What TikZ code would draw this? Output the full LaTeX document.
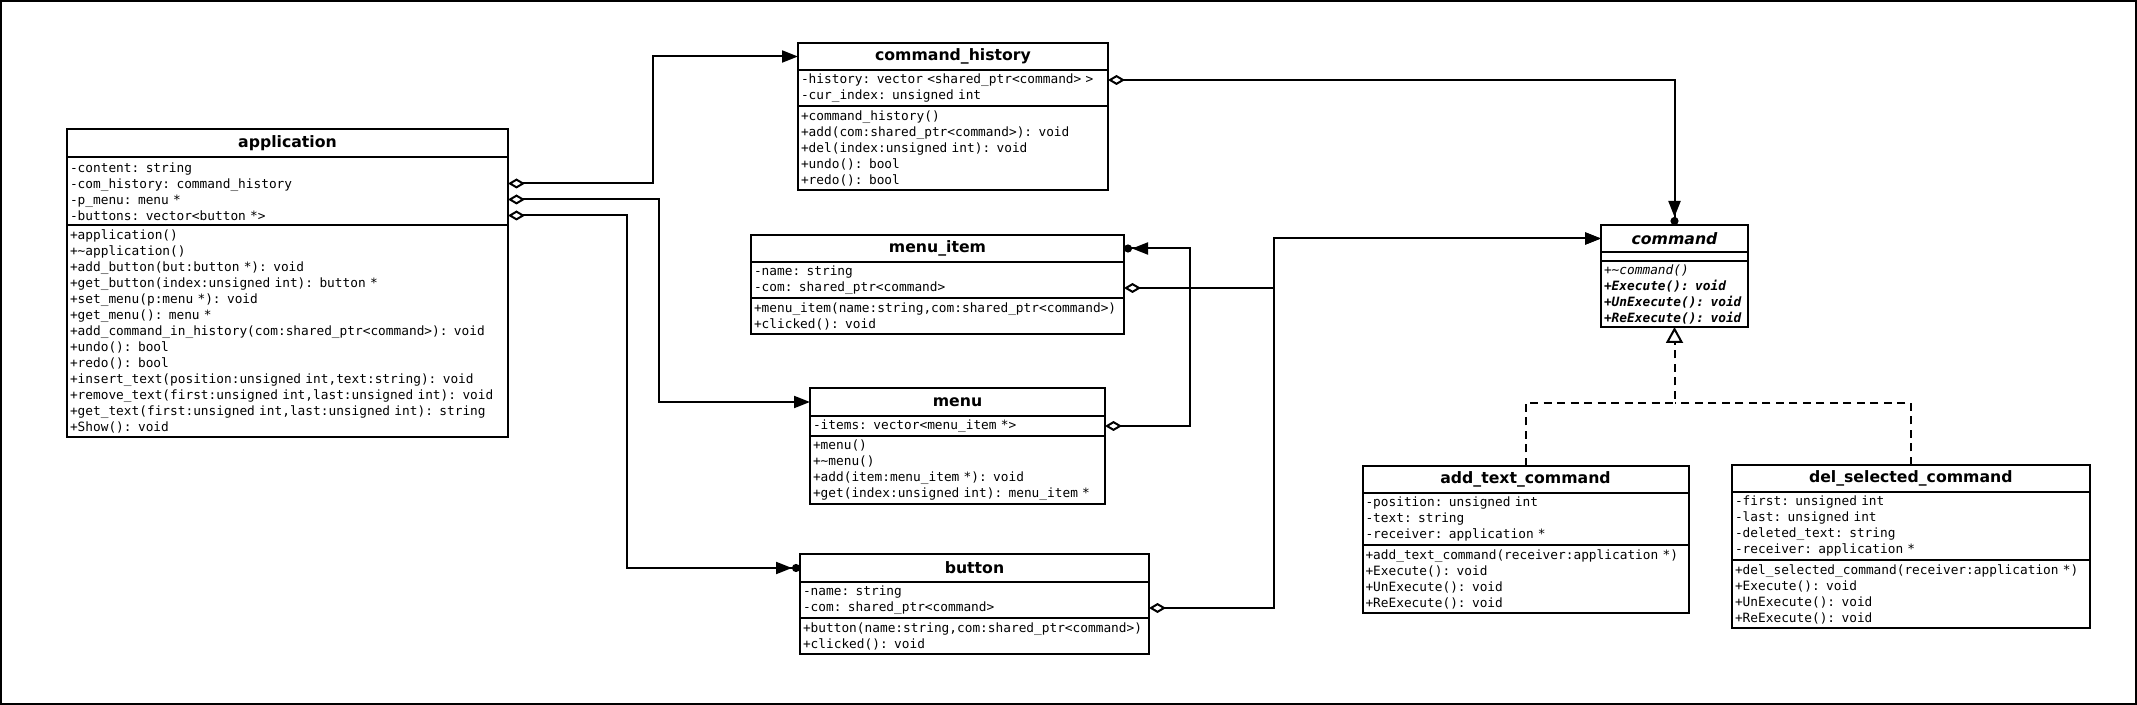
\documentclass[tikz,border=0pt]{standalone}
\usepackage{fontspec}
\setmonofont{DejaVu Sans Mono}
\setsansfont{DejaVu Sans}
\usepackage{tikz}
\usetikzlibrary{arrows.meta,calc}
\tikzset{>=Stealth}
\newcommand\umlrow{\fontsize{6.4}{8}\selectfont\ttfamily}
\newcommand\umlhead{\fontsize{7.85}{9}\selectfont\sffamily\bfseries}
\tikzset{
  box/.style={draw, line width=1pt, anchor=north west, outer sep=0pt, inner xsep=1.5pt, inner ysep=1pt},
  head/.style={box, font=\umlhead, align=center, minimum height=13.5pt},
  rows/.style={box, font=\umlrow, align=left, minimum height=#1},
  aggr/.style={line width=1pt, {Diamond[open,length=8.5pt,width=5pt]}-{Triangle[length=8pt,width=6pt]}},
  aggrdot/.style={line width=1pt, {Diamond[open,length=8.5pt,width=5pt]}-{Triangle[length=8pt,width=6pt]Circle[length=4pt]}},
  realize/.style={line width=1pt, dash pattern=on 4pt off 2.75pt, -{Triangle[open,length=8pt,width=8.5pt]}}
}

\begin{document}
\begin{tikzpicture}[x=0.5pt, y=-0.5pt]
\useasboundingbox (0,0) rectangle (2137,705);
\draw[line width=1pt] (1,1) rectangle (2136,704);

% Clases
\node[head, text width=217.5pt, minimum height=14.25pt] (app) at (67,129) {application};
\node[rows=34pt, text width=217.5pt] (app-a) at (app.south west) {-content: string\\-com\_history: command\_history\\-p\_menu: menu *\\-buttons: vector<button *>};
\node[rows=106pt, text width=217.5pt] (app-m) at (app-a.south west) {+application()\\+\textasciitilde application()\\+add\_button(but:button *): void\\+get\_button(index:unsigned int): button *\\+set\_menu(p:menu *): void\\+get\_menu(): menu *\\+add\_command\_in\_history(com:shared\_ptr<command>): void\\+undo(): bool\\+redo(): bool\\+insert\_text(position:unsigned int,text:string): void\\+remove\_text(first:unsigned int,last:unsigned int): void\\+get\_text(first:unsigned int,last:unsigned int): string\\+Show(): void};

\node[head, text width=152pt] (hist) at (798,43) {command\_history};
\node[rows=18pt, text width=152pt] (hist-a) at (hist.south west) {-history: vector <shared\_ptr<command> >\\-cur\_index: unsigned int};
\node[rows=42pt, text width=152pt] (hist-m) at (hist-a.south west) {+command\_history()\\+add(com:shared\_ptr<command>): void\\+del(index:unsigned int): void\\+undo(): bool\\+redo(): bool};

\node[head, text width=183.5pt] (mitem) at (751,235) {menu\_item};
\node[rows=18pt, text width=183.5pt] (mitem-a) at (mitem.south west) {-name: string\\-com: shared\_ptr<command>};
\node[rows=18pt, text width=183.5pt] (mitem-m) at (mitem-a.south west) {+menu\_item(name:string,com:shared\_ptr<command>)\\+clicked(): void};

\node[head, text width=144.5pt, minimum height=14pt] (menu) at (810,388) {menu};
\node[rows=10pt, text width=144.5pt] (menu-a) at (menu.south west) {-items: vector<menu\_item *>};
\node[rows=34pt, text width=144.5pt] (menu-m) at (menu-a.south west) {+menu()\\+\textasciitilde menu()\\+add(item:menu\_item *): void\\+get(index:unsigned int): menu\_item *};

\node[head, text width=171.5pt, minimum height=14pt] (btn) at (800,554) {button};
\node[rows=18pt, text width=171.5pt] (btn-a) at (btn.south west) {-name: string\\-com: shared\_ptr<command>};
\node[rows=18pt, text width=171.5pt] (btn-m) at (btn-a.south west) {+button(name:string,com:shared\_ptr<command>)\\+clicked(): void};

\node[head, text width=70.5pt] (cmd) at (1601,225) {\itshape command};
\node[rows=4.5pt, text width=70.5pt] (cmd-a) at (cmd.south west) {};
\node[rows=33pt, text width=70.5pt] (cmd-m) at (cmd-a.south west) {\textit{+\textasciitilde command()}\\\textbf{\textit{+Execute(): void}}\\\textbf{\textit{+UnExecute(): void}}\\\textbf{\textit{+ReExecute(): void}}};

\node[head, text width=160pt] (addcmd) at (1362.5,466) {add\_text\_command};
\node[rows=26pt, text width=160pt] (addcmd-a) at (addcmd.south west) {-position: unsigned int\\-text: string\\-receiver: application *};
\node[rows=34pt, text width=160pt] (addcmd-m) at (addcmd-a.south west) {+add\_text\_command(receiver:application *)\\+Execute(): void\\+UnExecute(): void\\+ReExecute(): void};

\node[head, text width=175.75pt] (delcmd) at (1732,465) {del\_selected\_command};
\node[rows=34pt, text width=175.75pt] (delcmd-a) at (delcmd.south west) {-first: unsigned int\\-last: unsigned int\\-deleted\_text: string\\-receiver: application *};
\node[rows=34pt, text width=175.75pt] (delcmd-m) at (delcmd-a.south west) {+del\_selected\_command(receiver:application *)\\+Execute(): void\\+UnExecute(): void\\+ReExecute(): void};

% Agregaciones
\draw[aggr] ($(app-a.north east)+(0,26)$) -- ++(145,0) |- (hist.west);
\draw[aggr] ($(app-a.north east)+(0,42)$) -- ++(151,0) |- (menu.west);
\draw[aggrdot] ($(app-a.north east)+(0,58)$) -- ++(119,0) |- (btn.west);
\draw[aggrdot] ($(hist-a.north east)+(0,10)$) -| (cmd.north);
\draw[aggrdot] ($(menu-a.north east)+(0,10)$) -- ++(85,0) |- (mitem.east);
\coordinate (bus) at ($(cmd.west)+(-327,0)$);
\draw[aggr] ($(mitem-a.north east)+(0,26)$) -| (bus) -- (cmd.west);
\draw[aggr] ($(btn-a.north east)+(0,26)$) -| (bus) -- (cmd.west);

% Realizaciones
\coordinate (impl) at ($(cmd-m.south)+(0,76)$);
\draw[realize] (addcmd.north) |- (impl) -- (cmd-m.south);
\draw[realize,-] (delcmd.north) |- (impl);

\end{tikzpicture}
\end{document}
